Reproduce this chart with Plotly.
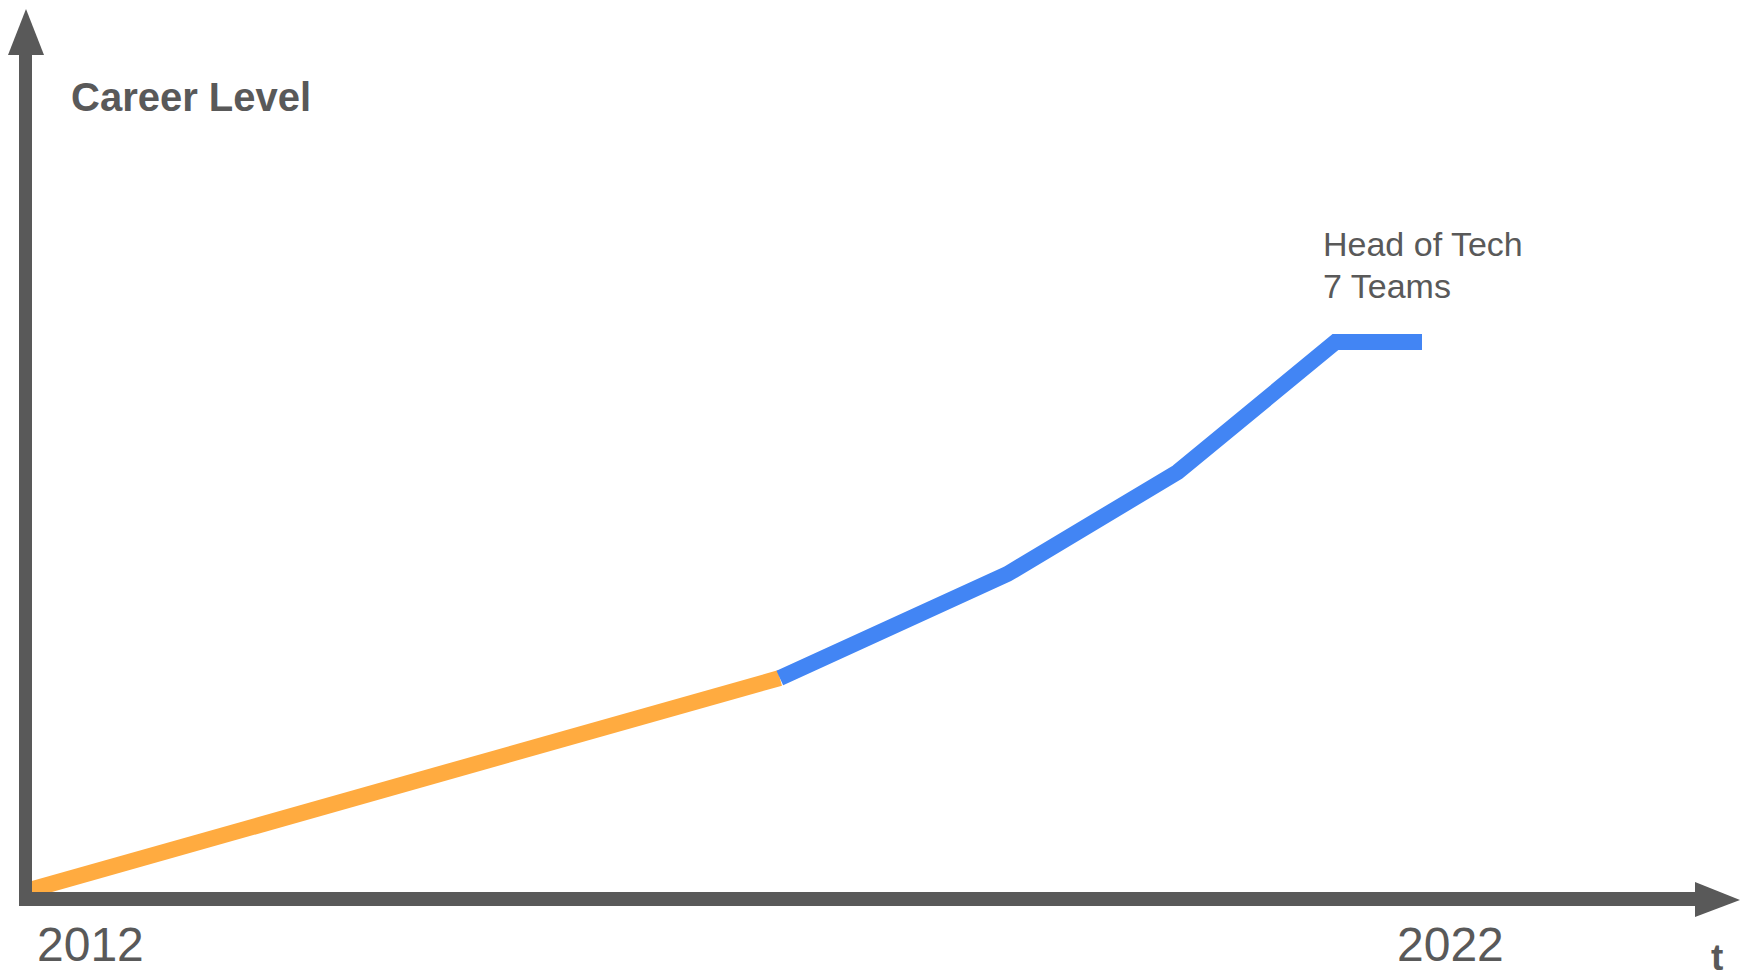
import plotly.graph_objects as go

# ---- data ----
early_years = [2012.0, 2017.4]
early_level = [0.08, 2.21]
later_years = [2017.4, 2019.03, 2020.25, 2021.38, 2022.0]
later_level = [2.21, 3.25, 4.27, 5.57, 5.57]
tick_labels = ["2012", "2022"]
y_title = "Career Level"
x_title = "t"
peak_label = ["Head of Tech", "7 Teams"]

W, H = 1740, 975
GREY = "#595959"

def px(x):
    return x / W

def py(y):
    return 1 - y / H

fig = go.Figure()
fig.add_trace(go.Scatter(x=early_years, y=early_level, mode="lines",
                         line=dict(color="#FFAB40", width=16), hoverinfo="skip"))
fig.add_trace(go.Scatter(x=later_years, y=later_level, mode="lines",
                         line=dict(color="#4285F4", width=16), hoverinfo="skip"))

# axis arrows (decoration)
shapes = [
    dict(type="rect", xref="paper", yref="paper", x0=px(19), x1=px(32), y0=py(906), y1=py(52),
         fillcolor=GREY, line=dict(width=0)),
    dict(type="path", xref="paper", yref="paper",
         path=f"M {px(8)},{py(55)} L {px(44)},{py(55)} L {px(26)},{py(9)} Z",
         fillcolor=GREY, line=dict(width=0)),
    dict(type="rect", xref="paper", yref="paper", x0=px(19), x1=px(1698), y0=py(906), y1=py(892),
         fillcolor=GREY, line=dict(width=0)),
    dict(type="path", xref="paper", yref="paper",
         path=f"M {px(1695)},{py(882)} L {px(1695)},{py(917)} L {px(1740)},{py(900)} Z",
         fillcolor=GREY, line=dict(width=0)),
]

def ann(text, x, y, size, bold=False):
    return dict(text=f"<b>{text}</b>" if bold else text, xref="paper", yref="paper",
                x=px(x), y=py(y), xanchor="left", yanchor="middle", showarrow=False,
                borderpad=0, font=dict(family="Liberation Sans, Arial", size=size, color=GREY))

annotations = [
    ann(y_title, 70, 96.5, 40, bold=True),
    ann(tick_labels[0], 36, 944, 48),
    ann(tick_labels[1], 1396, 944, 48),
    ann(x_title, 1710, 957, 37, bold=True),
    ann(peak_label[0], 1322, 244.5, 34),
    ann(peak_label[1], 1322, 286, 34),
]

fig.update_layout(
    width=W, height=H, margin=dict(l=0, r=0, t=0, b=0),
    paper_bgcolor="white", plot_bgcolor="white", showlegend=False,
    xaxis=dict(range=[2011.814, 2024.278], visible=False, fixedrange=True),
    yaxis=dict(range=[-0.76, 8.99], visible=False, fixedrange=True),
    shapes=shapes, annotations=annotations,
)
fig.write_html(
    "out.html",
    config={"displayModeBar": False},
    post_script="document.body.style.margin='0';document.body.style.overflow='hidden';",
)
